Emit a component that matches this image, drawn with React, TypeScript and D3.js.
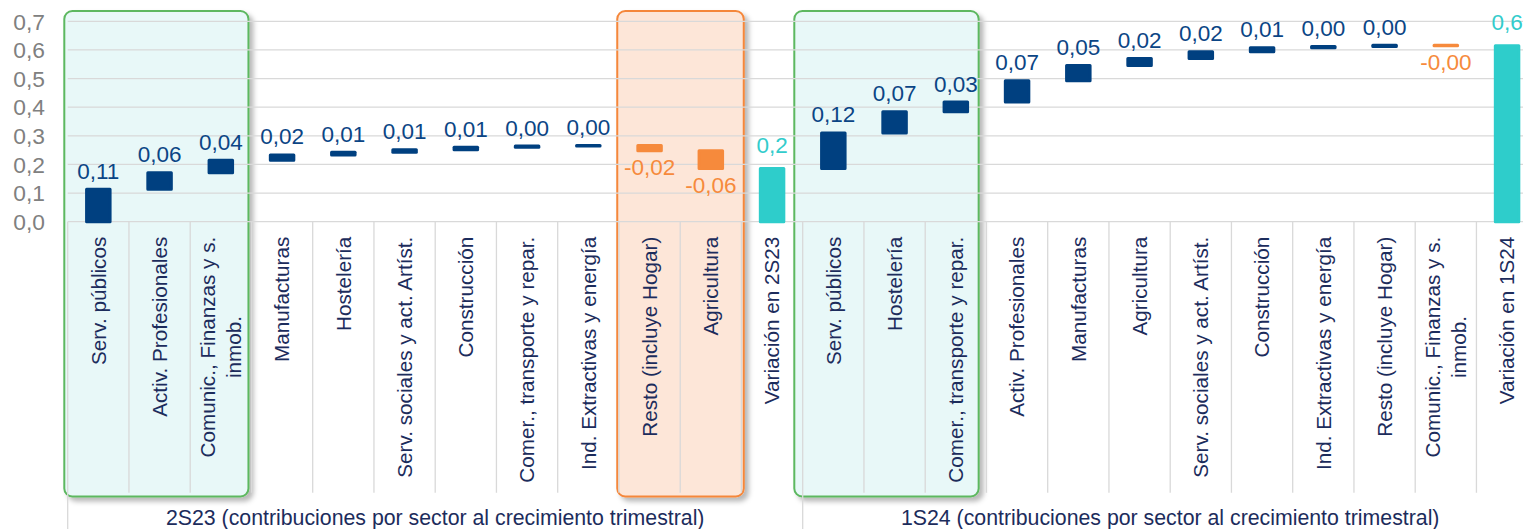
import React, { useEffect, useRef } from 'react';
import * as d3 from 'd3';

const W = 1523;
const H = 529;

// Contribuciones por sector, segundo semestre 2023 (puntos porcentuales)
const sectors2S23 = [
  'Serv. públicos',
  'Activ. Profesionales',
  'Comunic., Finanzas y s.\ninmob.',
  'Manufacturas',
  'Hostelería',
  'Serv. sociales y act. Artíst.',
  'Construcción',
  'Comer., transporte y repar.',
  'Ind. Extractivas y energía',
  'Resto (incluye Hogar)',
  'Agricultura',
];
const values2S23 = [0.113, 0.058, 0.044, 0.018, 0.01, 0.008, 0.009, 0.004, 0.002, -0.018, -0.062];
const total2S23Name = 'Variación en 2S23';

// Contribuciones por sector, primer semestre 2024
const sectors1S24 = [
  'Serv. públicos',
  'Hostelería',
  'Comer., transporte y repar.',
  'Activ. Profesionales',
  'Manufacturas',
  'Agricultura',
  'Serv. sociales y act. Artíst.',
  'Construcción',
  'Ind. Extractivas y energía',
  'Resto (incluye Hogar)',
  'Comunic., Finanzas y s.\ninmob.',
];
const values1S24 = [0.124, 0.074, 0.034, 0.074, 0.054, 0.024, 0.024, 0.014, 0.004, 0.004, -0.001];
const total1S24Name = 'Variación en 1S24';

const groupTitles = [
  '2S23 (contribuciones por sector al crecimiento trimestral)',
  '1S24 (contribuciones por sector al crecimiento trimestral)',
];

const yTicks = [0, 0.1, 0.2, 0.3, 0.4, 0.5, 0.6, 0.7];

// Highlighted category ranges: group index, first and last sector index, tone
const highlightGroup = [0, 0, 1];
const highlightFrom = [0, 9, 0];
const highlightTo = [2, 10, 2];
const highlightTone = ['pos', 'neg', 'pos'];

type Row = {
  key: string;
  name: string;
  start: number;
  end: number;
  value: number;
  kind: 'pos' | 'neg' | 'total';
  group: number;
};

const COLORS = {
  pos: '#004080',
  neg: '#F68A3C',
  total: '#2ECDCB',
  posText: '#0B4585',
  negText: '#F68A3C',
  totalText: '#33CCCC',
  grid: '#D9D9D9',
  tick: '#808080',
  cat: '#1C2C5C',
};

const FONT = "'Liberation Sans', Arial, sans-serif";

export default function App() {
  const ref = useRef<SVGSVGElement>(null);

  useEffect(() => {
    const svg = d3.select(ref.current);
    svg.selectAll('*').remove();

    const groups = [
      { sectors: sectors2S23, values: values2S23, totalName: total2S23Name },
      { sectors: sectors1S24, values: values1S24, totalName: total1S24Name },
    ];

    const rows: Row[] = [];
    let run = 0;
    groups.forEach((g, gi) => {
      g.sectors.forEach((name, i) => {
        const v = g.values[i];
        rows.push({
          key: `${gi}-${i}`,
          name,
          start: run,
          end: run + v,
          value: v,
          kind: v < 0 ? 'neg' : 'pos',
          group: gi,
        });
        run += v;
      });
      rows.push({ key: `${gi}-t`, name: g.totalName, start: 0, end: run, value: run, kind: 'total', group: gi });
    });

    const left = 67.7;
    const step = 61.25;
    const x = d3
      .scaleBand<string>()
      .domain(rows.map((r) => r.key))
      .range([left, left + rows.length * step])
      .padding(0);
    const bw = x.bandwidth();
    const y = d3.scaleLinear().domain([0, 0.7]).range([221.7, 21.3]);

    const defs = svg.append('defs');
    const f = defs
      .append('filter')
      .attr('id', 'frameShadow')
      .attr('x', '-5%')
      .attr('y', '-5%')
      .attr('width', '115%')
      .attr('height', '115%');
    f.append('feDropShadow')
      .attr('dx', 4)
      .attr('dy', 4)
      .attr('stdDeviation', 2.5)
      .attr('flood-color', '#000')
      .attr('flood-opacity', 0.28);

    // Highlight frames behind the chart
    const frameNudge = [[-3.4, -3], [-1.7, 2.3], [-8.4, -7.8]];
    highlightGroup.forEach((g, i) => {
      const perGroup = sectors2S23.length + 1;
      const k0 = rows[g * perGroup + highlightFrom[i]].key;
      const k1 = rows[g * perGroup + highlightTo[i]].key;
      const x0 = (x(k0) as number) + frameNudge[i][0];
      const x1 = (x(k1) as number) + bw + frameNudge[i][1];
      const isPos = highlightTone[i] === 'pos';
      svg
        .append('rect')
        .attr('x', x0)
        .attr('y', 11)
        .attr('width', x1 - x0)
        .attr('height', 485.5)
        .attr('rx', 8)
        .attr('fill', isPos ? '#E8F8F8' : '#FDE6D8')
        .attr('stroke', isPos ? '#5DB860' : '#F5873A')
        .attr('stroke-width', 2)
        .attr('filter', 'url(#frameShadow)');
    });

    // Gridlines
    svg
      .append('g')
      .selectAll('line')
      .data(yTicks)
      .join('line')
      .attr('x1', left)
      .attr('x2', W)
      .attr('y1', (d) => y(d))
      .attr('y2', (d) => y(d))
      .attr('stroke', COLORS.grid)
      .attr('stroke-width', 1.3);

    // Y tick labels
    svg
      .append('g')
      .selectAll('text')
      .data(yTicks)
      .join('text')
      .attr('x', 45)
      .attr('y', (d) => y(d))
      .attr('dy', '0.36em')
      .attr('text-anchor', 'end')
      .attr('font-family', FONT)
      .attr('font-size', 22.8)
      .attr('fill', COLORS.tick)
      .text((d) => d.toFixed(1).replace('.', ','));

    // Category separators
    const bounds = d3.range(rows.length + 1);
    const perGroup = sectors2S23.length + 1;
    svg
      .append('g')
      .selectAll('line')
      .data(bounds)
      .join('line')
      .attr('x1', (i) => left + i * step)
      .attr('x2', (i) => left + i * step)
      .attr('y1', y(0))
      .attr('y2', (i) => (i % perGroup === 0 ? H : 492.7))
      .attr('stroke', COLORS.grid)
      .attr('stroke-width', 1.3);

    // Waterfall bars
    const barW = 23.5;
    const fillOf = (r: Row) => (r.kind === 'pos' ? COLORS.pos : r.kind === 'neg' ? COLORS.neg : COLORS.total);
    svg
      .append('g')
      .selectAll('rect')
      .data(rows)
      .join('rect')
      .attr('x', (r) => (x(r.key) as number) + bw / 2 - barW / 2)
      .attr('y', (r) => y(Math.max(r.start, r.end)))
      .attr('width', barW)
      .attr('height', (r) => Math.abs(y(r.start) - y(r.end)))
      .attr('fill', fillOf)
      .attr('stroke', fillOf)
      .attr('stroke-width', 3)
      .attr('stroke-linejoin', 'round');

    // Value labels
    svg
      .append('g')
      .selectAll('text')
      .data(rows)
      .join('text')
      .attr('x', (r) => (x(r.key) as number) + bw / 2)
      .attr('y', (r) => {
        const top = y(Math.max(r.start, r.end)) - 1.5;
        const bottom = y(Math.min(r.start, r.end)) + 1.5;
        if (r.kind === 'neg') return bottom + 23;
        if (r.kind === 'total') return top - 14;
        return top - 9;
      })
      .attr('text-anchor', 'middle')
      .attr('font-family', FONT)
      .attr('font-size', 22.5)
      .attr('fill', (r) => (r.kind === 'pos' ? COLORS.posText : r.kind === 'neg' ? COLORS.negText : COLORS.totalText))
      .text((r) => (r.kind === 'total' ? r.value.toFixed(1) : r.value.toFixed(2)).replace('.', ','));

    // Rotated category labels
    const catSize = 20.7;
    const lineH = 26.5;
    const catG = svg.append('g');
    rows.forEach((r) => {
      const cx = (x(r.key) as number) + bw / 2;
      const lines = r.name.split('\n');
      const t = catG
        .append('text')
        .attr('transform', `translate(${cx},236.7) rotate(-90)`)
        .attr('text-anchor', 'middle')
        .attr('font-family', FONT)
        .attr('font-size', catSize)
        .attr('fill', COLORS.cat);
      const spans = lines.map((ln, i) =>
        t
          .append('tspan')
          .attr('y', (i - (lines.length - 1) / 2) * lineH + 0.35 * catSize)
          .text(ln)
      );
      const maxLen = d3.max(spans, (s) => (s.node() as SVGTextContentElement).getComputedTextLength()) || 0;
      spans.forEach((s) => s.attr('x', -maxLen / 2));
    });

    // Group titles
    [0, 1].forEach((gi) => {
      const a = left + gi * perGroup * step;
      const b = a + perGroup * step;
      svg
        .append('text')
        .attr('x', (a + b) / 2)
        .attr('y', 525)
        .attr('text-anchor', 'middle')
        .attr('font-family', FONT)
        .attr('font-size', 21.3)
        .attr('fill', COLORS.cat)
        .text(groupTitles[gi]);
    });
  }, []);

  return (
    <svg
      ref={ref}
      width={W}
      height={H}
      style={{ position: 'absolute', left: 0, top: 0, background: '#fff' }}
    />
  );
}
